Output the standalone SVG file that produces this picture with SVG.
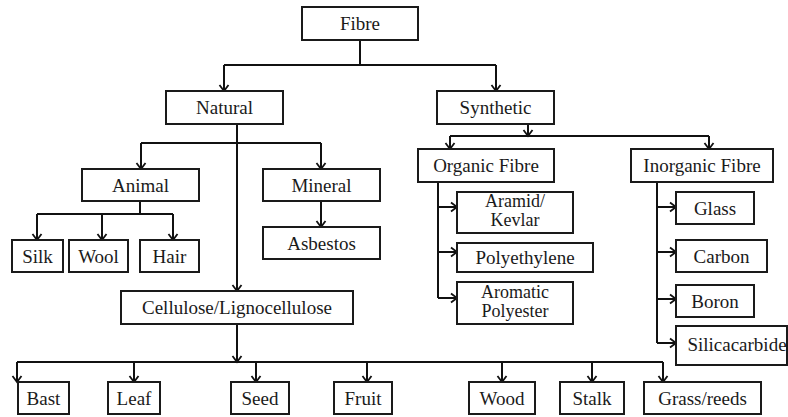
<svg xmlns="http://www.w3.org/2000/svg" width="788" height="417" viewBox="0 0 788 417">
  <defs>
    <marker id="arr" viewBox="-8 -6 10 12" markerWidth="10" markerHeight="12" refX="0" refY="0" orient="auto" markerUnits="userSpaceOnUse">
      <path d="M-6,-4.5 L0,0 L-6,4.5" fill="none" stroke="#111" stroke-width="1.8"/>
    </marker>
  </defs>
  <style>
    rect { fill: #fff; stroke: #1a1a1a; stroke-width: 2; }
    text { font-family: 'Liberation Serif', 'DejaVu Serif', serif; font-size: 19px; fill: #1a1a1a; text-anchor: middle; }
    text.two { font-size: 18px; }
    .ln { fill: none; stroke: #111; stroke-width: 2; }
    .ar { fill: none; stroke: #111; stroke-width: 2; marker-end: url(#arr); }
  </style>
  <rect x="0" y="0" width="788" height="417" style="fill:#fff;stroke:none"/>

  <g id="connectors">
    <!-- Fibre -> Natural / Synthetic -->
    <path class="ln" d="M360,40 V65"/>
    <path class="ln" d="M224,65 H496"/>
    <path class="ar" d="M224,65 V91"/>
    <path class="ar" d="M496,65 V91"/>
    <!-- Natural branches -->
    <path class="ar" d="M237,124 V291"/>
    <path class="ln" d="M141,143 H321"/>
    <path class="ar" d="M141,143 V169"/>
    <path class="ar" d="M321,143 V169"/>
    <!-- Animal branches -->
    <path class="ln" d="M140,201 V214"/>
    <path class="ln" d="M37,214 H173"/>
    <path class="ar" d="M37,214 V240"/>
    <path class="ar" d="M102,214 V240"/>
    <path class="ar" d="M173,214 V240"/>
    <!-- Mineral -> Asbestos -->
    <path class="ar" d="M321,201 V227"/>
    <!-- Synthetic branches -->
    <path class="ar" d="M528,124 V136"/>
    <path class="ln" d="M450,136 H709"/>
    <path class="ar" d="M450,136 V149"/>
    <path class="ar" d="M709,136 V149"/>
    <!-- Organic fibre list -->
    <path class="ln" d="M438,182 V298"/>
    <path class="ar" d="M438,207 H457"/>
    <path class="ar" d="M438,252 H457"/>
    <path class="ar" d="M438,298 H457"/>
    <!-- Inorganic fibre list -->
    <path class="ln" d="M657,182 V343"/>
    <path class="ar" d="M657,207 H676"/>
    <path class="ar" d="M657,252 H676"/>
    <path class="ar" d="M657,299 H676"/>
    <path class="ar" d="M657,343 H676"/>
    <!-- Cellulose branches -->
    <path class="ar" d="M237,324 V362"/>
    <path class="ln" d="M17,362 H663"/>
    <path class="ar" d="M17,362 V382"/>
    <path class="ar" d="M134,362 V382"/>
    <path class="ar" d="M256,362 V382"/>
    <path class="ar" d="M367,362 V382"/>
    <path class="ar" d="M502,362 V382"/>
    <path class="ar" d="M592,362 V382"/>
    <path class="ar" d="M663,362 V382"/>
  </g>

  <g id="fibre"><rect x="302" y="7" width="116" height="33"/><text x="360" y="30">Fibre</text></g>
  <g id="natural"><rect x="166" y="91" width="117" height="33"/><text x="224.5" y="114">Natural</text></g>
  <g id="synthetic"><rect x="437" y="91" width="117" height="33"/><text x="495.5" y="114">Synthetic</text></g>

  <g id="animal"><rect x="82" y="169" width="117" height="32"/><text x="140.5" y="192">Animal</text></g>
  <g id="mineral"><rect x="263" y="169" width="117" height="32"/><text x="321.5" y="192">Mineral</text></g>
  <g id="silk"><rect x="12" y="240" width="51" height="32"/><text x="37.5" y="263">Silk</text></g>
  <g id="wool"><rect x="69" y="240" width="59" height="32"/><text x="98.5" y="263">Wool</text></g>
  <g id="hair"><rect x="140" y="240" width="59" height="32"/><text x="169.5" y="263">Hair</text></g>
  <g id="asbestos"><rect x="263" y="227" width="117" height="32"/><text x="321.5" y="250">Asbestos</text></g>
  <g id="cellulose"><rect x="121" y="291" width="232" height="33"/><text x="237" y="314">Cellulose/Lignocellulose</text></g>

  <g id="organic"><rect x="418" y="149" width="136" height="33"/><text x="486" y="172">Organic Fibre</text></g>
  <g id="inorganic"><rect x="631" y="149" width="142" height="33"/><text x="702" y="172">Inorganic Fibre</text></g>
  <g id="aramid"><rect x="457" y="192" width="116" height="41"/><text class="two" x="515" y="207">Aramid/</text><text class="two" x="515" y="226">Kevlar</text></g>
  <g id="polyethylene"><rect x="457" y="243" width="136" height="29"/><text x="525" y="264">Polyethylene</text></g>
  <g id="aromatic"><rect x="457" y="282" width="116" height="42"/><text class="two" x="515" y="298">Aromatic</text><text class="two" x="515" y="317">Polyester</text></g>
  <g id="glass"><rect x="676" y="192" width="78" height="32"/><text x="715" y="215">Glass</text></g>
  <g id="carbon"><rect x="676" y="240" width="91" height="32"/><text x="721.5" y="263">Carbon</text></g>
  <g id="boron"><rect x="676" y="285" width="78" height="32"/><text x="715" y="308">Boron</text></g>
  <g id="silicacarbide"><rect x="676" y="326" width="111" height="39"/><text x="737" y="351">Silicacarbide</text></g>

  <g id="bast"><rect x="18" y="382" width="51" height="32"/><text x="43.5" y="405">Bast</text></g>
  <g id="leaf"><rect x="108" y="382" width="52" height="32"/><text x="134" y="405">Leaf</text></g>
  <g id="seed"><rect x="231" y="382" width="58" height="32"/><text x="260" y="405">Seed</text></g>
  <g id="fruit"><rect x="334" y="382" width="58" height="32"/><text x="363" y="405">Fruit</text></g>
  <g id="wood"><rect x="469" y="382" width="66" height="32"/><text x="502" y="405">Wood</text></g>
  <g id="stalk"><rect x="560" y="382" width="64" height="32"/><text x="592" y="405">Stalk</text></g>
  <g id="grass"><rect x="644" y="382" width="117" height="32"/><text x="702.5" y="405">Grass/reeds</text></g>
</svg>
